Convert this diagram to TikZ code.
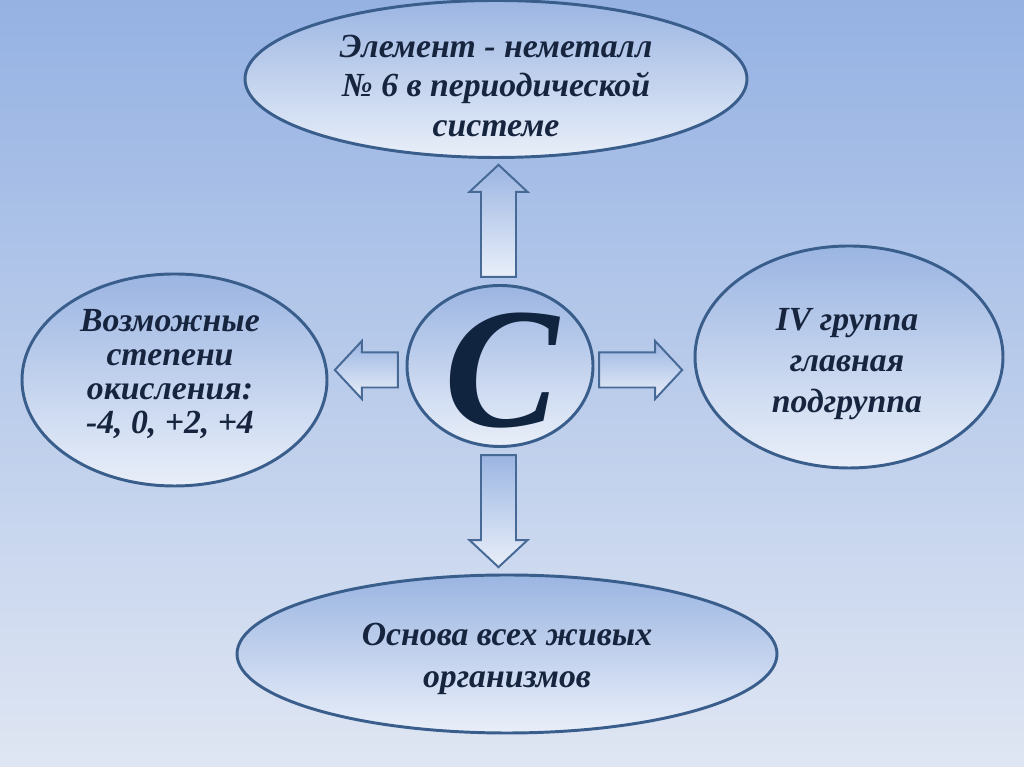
\documentclass[tikz,border=0pt]{standalone}
\usepackage{fontspec}
\setmainfont{Liberation Serif}
\usepackage{xcolor}
\definecolor{bgtop}{RGB}{149,178,227}
\definecolor{bgbot}{RGB}{223,230,243}
\definecolor{ovaltop}{RGB}{155,181,226}
\definecolor{ovalbot}{RGB}{233,239,249}
\definecolor{ovalline}{RGB}{58,94,140}
\definecolor{arrowline}{RGB}{70,105,150}
\definecolor{navytext}{RGB}{22,36,62}
\definecolor{carbonblue}{RGB}{16,35,63}
\usepackage{tikz}
\usetikzlibrary{shapes.geometric,shapes.arrows}

\begin{document}
\begin{tikzpicture}[
  oval/.style={ellipse,draw=ovalline,line width=2.1pt,top color=ovaltop,bottom color=ovalbot,inner sep=0pt},
  blockarrow/.style={single arrow,draw=arrowline,line width=1.4pt,top color=ovaltop,bottom color=ovalbot,
    inner sep=0.28cm,minimum width=1.45cm,single arrow tip angle=94,single arrow head extend=0.2cm},
  txt/.style={text=navytext,font=\fontsize{24}{28}\selectfont\bfseries\itshape,align=center}]
\useasboundingbox (0,0) rectangle (25.6,19.175);
\fill[top color=bgtop,bottom color=bgbot] (0,0) rectangle (25.6,19.175);
% four ovals round the centre
\node[oval,minimum width=12.55cm,minimum height=3.925cm] (element) at (12.4,17.2) {};
\node[oval,minimum width=7.625cm,minimum height=5.3cm] (oxid) at (4.3625,9.675) {};
\node[oval,minimum width=7.7cm,minimum height=5.55cm] (group) at (21.225,10.25) {};
\node[oval,minimum width=13.5cm,minimum height=3.95cm] (life) at (12.675,2.825) {};
\node[oval,minimum width=4.65cm,minimum height=4.025cm] (carbon) at (12.5,10.025) {};
\node[text=carbonblue,font=\fontsize{122}{122}\selectfont\bfseries\itshape] (carbon-t) at (12.55,9.9) {C};
% texts
\node[txt] (element-t) at (12.4,17.025) {Элемент - неметалл\\№ 6 в периодической\\системе};
\node[txt,font=\fontsize{24}{24.2}\selectfont\bfseries\itshape] (oxid-t) at (4.25,9.825) {Возможные\\степени\\окисления:\\-4, 0, +2, +4};
\node[txt,font=\fontsize{24}{29}\selectfont\bfseries\itshape] (group-t) at (21.175,10.075) {IV группа\\главная\\подгруппа};
\node[txt,font=\fontsize{24}{30}\selectfont\bfseries\itshape] (life-t) at (12.675,2.7) {Основа всех живых\\организмов};
% block arrows
\node[blockarrow,shape border rotate=90,minimum height=2.8cm] (arrup) at (12.4625,13.45) {};
\node[blockarrow,shape border rotate=270,minimum height=2.8cm] (arrdown) at (12.4625,6.6) {};
\node[blockarrow,shape border rotate=180,minimum height=1.575cm] (arrleft) at (9.3625,9.925) {};
\node[blockarrow,minimum height=2.075cm] (arrright) at (15.8125,9.925) {};
\end{tikzpicture}
\end{document}
